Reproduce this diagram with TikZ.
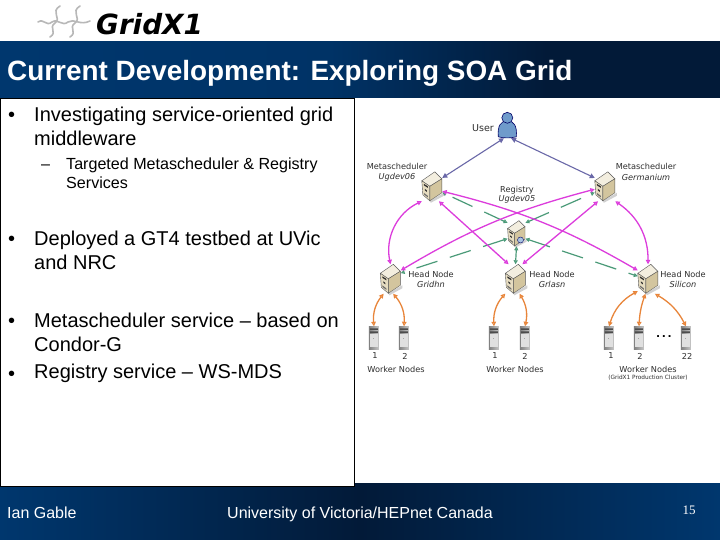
\documentclass[tikz,border=0pt]{standalone}
\usepackage{fontspec}
\setmainfont{Liberation Sans}
\newfontfamily\lblfont{DejaVu Sans}
\newfontfamily\numfont{Liberation Serif}
\usetikzlibrary{arrows.meta,shadings}
\definecolor{NavyA}{HTML}{00376E}
\definecolor{NavyB}{HTML}{021A38}
\definecolor{Ask}{HTML}{6A68A8}
\definecolor{Pink}{HTML}{DC3CDC}
\definecolor{Reg}{HTML}{4A9A78}
\definecolor{Work}{HTML}{E8853A}
\definecolor{Ink}{HTML}{2E2E2E}
\definecolor{Person}{HTML}{6F9BCB}
\definecolor{CaseTop}{HTML}{F3EEDF}
\definecolor{CaseFront}{HTML}{E6DCC0}
\definecolor{CaseSide}{HTML}{D3C59E}
\pgfdeclarehorizontalshading{titlefade}{100bp}{color(0bp)=(NavyA); color(25bp)=(NavyA); color(48bp)=(NavyA!85!NavyB); color(63bp)=(NavyB); color(100bp)=(NavyB)}
\tikzset{
  askarr/.style={{Triangle[length=5pt,width=5pt]}-{Triangle[length=5pt,width=5pt]},line width=1.1pt,draw=Ask},
  pinkarr/.style={{Triangle[open,length=4.5pt,width=4.5pt]}-{Triangle[open,length=4.5pt,width=4.5pt]},line width=1.3pt,draw=Pink},
  regarr/.style={{Triangle[open,length=4pt,width=4pt]}-{Triangle[open,length=4pt,width=4pt]},line width=1.2pt,draw=Reg,dash pattern=on 22pt off 13pt},
  workarr/.style={{Triangle[open,length=4.5pt,width=4.5pt]}-{Triangle[open,length=4.5pt,width=4.5pt]},line width=1.3pt,draw=Work},
  srvbox/.style={inner sep=0pt,minimum width=20pt*#1,minimum height=29pt*#1},
  wrkbox/.style={inner sep=0pt,minimum width=10pt,minimum height=23pt},
  lbl/.style={font=\lblfont\fontsize{8.2}{10}\selectfont,text=Ink,inner sep=0pt},
  lblit/.style={lbl,font=\lblfont\itshape\fontsize{8.2}{10}\selectfont},
  bodytxt/.style={font=\fontsize{20}{24}\selectfont,align=left,inner sep=0pt,anchor=west},
  subtxt/.style={font=\fontsize{16.1}{19}\selectfont,align=left,inner sep=0pt,anchor=west},
  foot/.style={font=\fontsize{16}{18}\selectfont,text=white,inner sep=0pt,anchor=base west}
}
\newcommand{\srvicon}[2]{%
  \begin{scope}[shift={(#1.north west)},x=#2pt,y=-#2pt,line width=0.4pt,draw=Ink!80]
    \fill[black!18] (8,29)--(22,21)--(22,24)--(9,31)--cycle;
    \filldraw[fill=CaseTop] (0,9)--(13,0)--(20,7)--(8,14.5)--cycle;
    \filldraw[fill=CaseFront] (0,9)--(8,14.5)--(8,29)--(1,23)--cycle;
    \filldraw[fill=CaseSide] (8,14.5)--(20,7)--(20,21)--(8,29)--cycle;
    \fill[Ink] (2,12)--(6,14.5)--(6,16)--(2,13.5)--cycle (3,17)--(5,18.5)--(5,20)--(3,18.5)--cycle;
    \fill[Ink!70] (2,21)--(6,24)--(6,25.5)--(2,22.5)--cycle;
  \end{scope}}
\newcommand{\wrkicon}[1]{%
  \begin{scope}[shift={(#1.north west)}]
    \shade[left color=black!50,right color=black!22] (0,0) rectangle (10,23);
    \fill[black!70] (1,2) rectangle (9,3.5) (1,5) rectangle (9,6.5);
    \fill[black!12] (1,7.5) rectangle (9,21);
    \fill[black!35] (4.5,12) rectangle (5.5,13);
  \end{scope}}
\begin{document}
\begin{tikzpicture}[x=1pt,y=-1pt]
  \useasboundingbox (0,0) rectangle (720,540);
  \fill[white] (0,0) rectangle (720,540);
  % bands
  \shade[shading=titlefade] (0,42) rectangle (720,98);
  \shade[left color=NavyA,right color=NavyA,middle color=NavyB] (0,483) rectangle (720,540);
  \node[font=\bfseries\fontsize{27.9}{30}\selectfont,text=white,inner sep=0pt,anchor=base west] (title) at (7,80.5) {Current Development: Exploring SOA Grid};
  \draw[black,fill=white,line width=0.8pt] (0.5,98.5) rectangle (354.5,486);
  % logo
  \draw[black!28,line width=1.6pt,line cap=round] (38,22) .. controls (44,18) and (46,27) .. (52,22) .. controls (58,18) and (62,27) .. (68,22) .. controls (74,18) and (80,26) .. (90,21);
  \draw[black!28,line width=1.6pt,line cap=round] (60,6) .. controls (50,12) and (62,18) .. (55,23) .. controls (48,28) and (58,32) .. (50,37);
  \draw[black!28,line width=1.6pt,line cap=round] (80,6) .. controls (70,12) and (82,18) .. (75,23) .. controls (68,28) and (78,32) .. (70,37);
  \node[font=\lblfont\bfseries\itshape\fontsize{27.8}{30}\selectfont,inner sep=0pt,anchor=base west] (logo) at (96,35) {GridX1};
  % text
  \node[bodytxt] (bul1) at (8,117) {•};
  \node[bodytxt] (item1) at (34,126) {Investigating service-oriented grid\\middleware};
  \node[subtxt] (dash1) at (41,167) {–};
  \node[subtxt] (item1a) at (66,173.5) {Targeted Metascheduler \& Registry\\Services};
  \node[bodytxt] (bul2) at (8,241) {•};
  \node[bodytxt] (item2) at (34,250) {Deployed a GT4 testbed at UVic\\and NRC};
  \node[bodytxt] (bul3) at (8,323) {•};
  \node[bodytxt] (item3) at (34,332) {Metascheduler service – based on\\Condor-G};
  \node[bodytxt] (bul4) at (8,376) {•};
  \node[bodytxt] (item4) at (34,373) {Registry service – WS-MDS};
  \node[foot] (who) at (7,518) {Ian Gable};
  \node[foot] (where) at (227,518) {University of Victoria/HEPnet Canada};
  \node[font=\numfont\fontsize{13}{15}\selectfont,text=white,inner sep=0pt] (pageno) at (689,510) {15};
  % servers
  \node[inner sep=0pt,minimum width=19pt,minimum height=26pt] (user) at (507.5,125) {};
  \node[srvbox=1] (meta1) at (432,186.5) {};
  \node[srvbox=1] (meta2) at (605,186.5) {};
  \node[srvbox=0.87] (reg) at (516.5,233.5) {};
  \node[srvbox=1] (head1) at (390.5,279) {};
  \node[srvbox=1] (head2) at (515.5,279) {};
  \node[srvbox=1] (head3) at (648,279) {};
  \node[wrkbox] (w11) at (374,338) {};
  \node[wrkbox] (w12) at (404,338) {};
  \node[wrkbox] (w21) at (494,338) {};
  \node[wrkbox] (w22) at (525,338) {};
  \node[wrkbox] (w31) at (609,338) {};
  \node[wrkbox] (w32) at (639,338) {};
  \node[wrkbox] (w33) at (686,338) {};
  \begin{scope}[shift={(user.north west)}]
    \filldraw[fill=Person,draw=blue!40!black,line width=0.6pt] (0.5,25) .. controls (-0.5,14) and (3,9) .. (9.5,9) .. controls (16,9) and (19.5,14) .. (18.5,25) .. controls (13,26.5) and (6,26.5) .. (0.5,25);
    \filldraw[fill=Person,draw=blue!40!black,line width=0.6pt] (9.5,6) circle (5.5);
  \end{scope}
  \srvicon{meta1}{1} \srvicon{meta2}{1} \srvicon{reg}{0.87}
  \srvicon{head1}{1} \srvicon{head2}{1} \srvicon{head3}{1}
  \wrkicon{w11} \wrkicon{w12} \wrkicon{w21} \wrkicon{w22} \wrkicon{w31} \wrkicon{w32} \wrkicon{w33}
  \node[circle,draw=blue!40!black,fill=Person!60!white,minimum size=6pt,inner sep=0pt] (globe) at (520.5,240) {};
  \node[font=\bfseries\fontsize{13}{13}\selectfont,inner sep=0pt] (more) at (664,337) {.\,.\,.};
  % labels
  \node[lbl,font=\lblfont\fontsize{9.5}{11}\selectfont] (userlbl) at (483,128) {User};
  \node[lbl] (m1a) at (397,166) {Metascheduler};
  \node[lblit] (m1b) at (397,177) {Ugdev06};
  \node[lbl] (m2a) at (646,166) {Metascheduler};
  \node[lblit] (m2b) at (646,177) {Germanium};
  \node[lbl] (r1a) at (517,190) {Registry};
  \node[lblit] (r1b) at (517,199) {Ugdev05};
  \node[lbl] (h1a) at (431,274) {Head Node};
  \node[lblit] (h1b) at (431,284) {Gridhn};
  \node[lbl] (h2a) at (552,274) {Head Node};
  \node[lblit] (h2b) at (552,284) {Grlasn};
  \node[lbl] (h3a) at (683,274) {Head Node};
  \node[lblit] (h3b) at (683,284) {Silicon};
  \node[lbl] (n11) at (375,356) {1};
  \node[lbl] (n12) at (405,356) {2};
  \node[lbl] (n21) at (495,356) {1};
  \node[lbl] (n22) at (525,356) {2};
  \node[lbl] (n31) at (611,356) {1};
  \node[lbl] (n32) at (640,356) {2};
  \node[lbl] (n33) at (687,356) {22};
  \node[lbl] (wn1) at (396,369) {Worker Nodes};
  \node[lbl] (wn2) at (515,369) {Worker Nodes};
  \node[lbl] (wn3) at (648,369) {Worker Nodes};
  \node[lbl,font=\lblfont\fontsize{5.8}{7}\selectfont] (wn3b) at (648,378) {(GridX1 Production Cluster)};
  % connectors
  \draw[askarr] (user.-105) -- (meta1.40);
  \draw[askarr] (user.-75) -- (meta2.140);
  \draw[regarr] (reg.130) -- (meta1.-30);
  \draw[regarr] (reg.50) -- (meta2.-150);
  \draw[regarr] (reg.-150) -- (head1.30);
  \draw[regarr] (reg.-90) -- (head2.90);
  \draw[regarr] (reg.-30) -- (head3.165);
  \draw[pinkarr] (meta1.south west) to[bend right=38] (head1.north);
  \draw[pinkarr] (meta1.-65) -- (head2.115);
  \draw[pinkarr] (meta1.-25) to[bend left=8] (head3.140);
  \draw[pinkarr] (meta2.-165) to[bend right=8] (head1.40);
  \draw[pinkarr] (meta2.-115) -- (head2.65);
  \draw[pinkarr] (meta2.south east) to[bend left=28] (head3.north);
  \draw[workarr] (head1.-115) to[bend right=22] (w11.north);
  \draw[workarr] (head1.-80) to[bend left=22] (w12.north);
  \draw[workarr] (head2.-125) to[bend right=22] (w21.north);
  \draw[workarr] (head2.-75) to[bend left=22] (w22.north);
  \draw[workarr] (head3.-130) to[bend right=22] (w31.north);
  \draw[workarr] (head3.-100) to[bend right=8] (w32.north);
  \draw[workarr] (head3.-65) to[bend left=16] (w33.north);
\end{tikzpicture}
\end{document}
